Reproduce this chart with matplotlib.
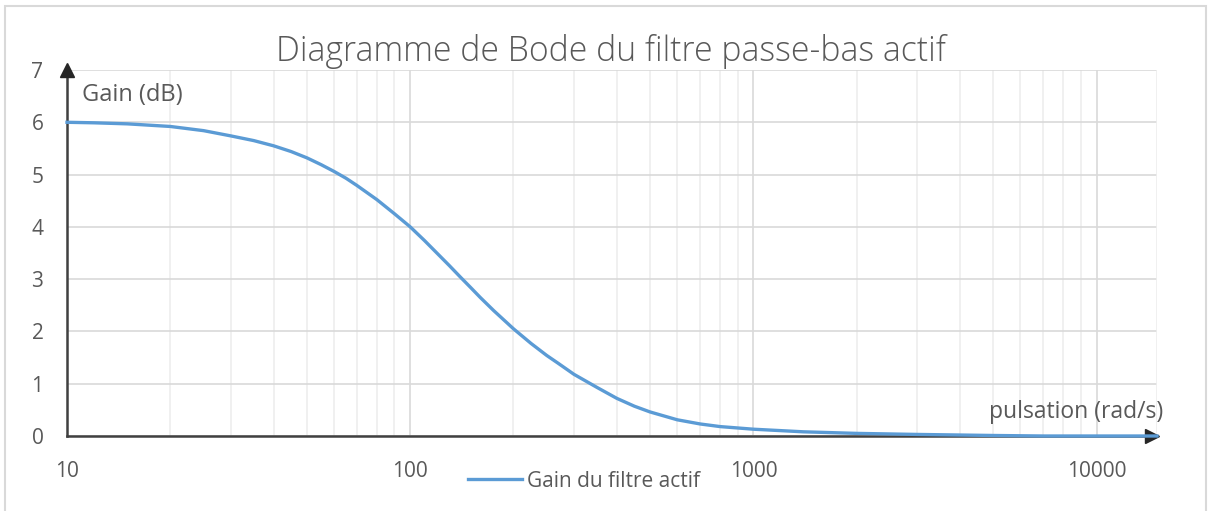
import numpy as np
import matplotlib.pyplot as plt
from matplotlib.patches import Rectangle

plt.rcParams['font.family'] = ['Open Sans', 'DejaVu Sans']

# pulsation (rad/s) and gain (dB)
pulsation = [10, 12, 15, 20, 25, 30, 35, 40, 45, 50, 55, 60, 65, 70, 80, 90,
             100, 110, 120, 130, 140, 150, 160, 175, 200, 225, 250, 270,
             300, 350, 400, 450, 500, 600, 700, 800, 1000, 1400, 2000, 3000,
             5000, 7000, 10000, 15000]
gain_db = [6.0, 5.99, 5.97, 5.92, 5.84, 5.74, 5.65, 5.55, 5.44, 5.32, 5.19,
           5.06, 4.93, 4.79, 4.52, 4.25, 4.0, 3.74, 3.49, 3.26, 3.04, 2.84,
           2.65, 2.40, 2.05, 1.77, 1.54, 1.39, 1.18, 0.93, 0.72, 0.57,
           0.46, 0.31, 0.23, 0.18, 0.13, 0.08, 0.05, 0.03, 0.01, 0.0, 0.0,
           0.0]
yticks = [0, 1, 2, 3, 4, 5, 6, 7]
xticks = [10, 100, 1000, 10000]

W, H = 1210, 511
fig = plt.figure(figsize=(W / 100, H / 100), dpi=100)
ax = fig.add_axes([67 / W, 1 - 436 / H, (1157 - 67) / W, (436 - 70) / H])

txt = '#595959'
axis_col = '#404040'

# outer chart border
fig.patches.append(Rectangle((5 / W, -0.02), (1206 - 5) / W, 1 - 6 / H + 0.02,
                             transform=fig.transFigure, fill=False,
                             edgecolor='#d9d9d9', linewidth=1.5))

ax.set_xscale('log')
ax.set_xlim(10, 15000)
ax.set_ylim(0, 7)

# grid
ax.set_xticks(xticks)
ax.set_xticklabels([str(t) for t in xticks])
ax.set_yticks(yticks)
ax.grid(True, which='major', axis='both', color='#d9d9d9', linewidth=1.2)
ax.grid(True, which='minor', axis='x', color='#eeeeee', linewidth=1.2)
ax.axvline(15000, color='#eeeeee', linewidth=1.2)
ax.set_axisbelow(True)
ax.tick_params(which='both', length=0, labelsize=15, colors=txt)
ax.tick_params(axis='y', pad=17)
ax.tick_params(axis='x', pad=18)

for s in ['top', 'right']:
    ax.spines[s].set_visible(False)
for s in ['left', 'bottom']:
    ax.spines[s].set_color(axis_col)
    ax.spines[s].set_linewidth(1.8)
    ax.spines[s].set_zorder(1.5)

ax.plot(pulsation, gain_db, color='#5b9bd5', linewidth=2.4,
        label='Gain du filtre actif', zorder=3, clip_on=False,
        solid_joinstyle='round')

# arrow heads on the axes
ax.plot([0], [1], marker='^', markersize=10, color='#262626',
        transform=ax.transAxes, clip_on=False, zorder=4)
ax.plot([0.995], [0], marker='>', markersize=10, color='#262626',
        transform=ax.transAxes, clip_on=False, zorder=2)

fig.text(610.5 / W, 1 - 61 / H, 'Diagramme de Bode du filtre passe-bas actif',
         ha='center', va='baseline', fontsize=24.3, color=txt,
         fontweight='light')
fig.text(82 / W, 1 - 101 / H, 'Gain (dB)', ha='left', va='baseline',
         fontsize=17, color=txt)
fig.text(1163 / W, 1 - 418 / H, 'pulsation (rad/s)', ha='right',
         va='baseline', fontsize=16.5, color=txt)

ax.legend(loc='center', bbox_to_anchor=(584 / W, 1 - 481 / H),
          bbox_transform=fig.transFigure, frameon=False, fontsize=15,
          handlelength=2.6, handletextpad=0.25, labelcolor=txt)

fig.savefig('out.png', dpi=100)
